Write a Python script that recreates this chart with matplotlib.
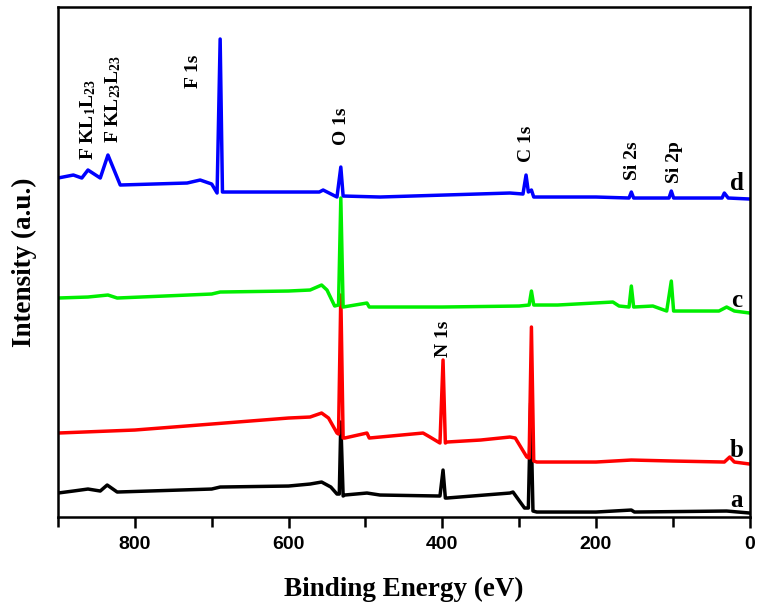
"""XPS survey spectra a-d, redrawn from the reference figure."""

import matplotlib
matplotlib.use("Agg")
import matplotlib.pyplot as plt
from matplotlib.ticker import MultipleLocator

plt.rcParams["mathtext.fontset"] = "custom"
plt.rcParams["mathtext.rm"] = "Liberation Serif:bold"
plt.rcParams["mathtext.bf"] = "Liberation Serif:bold"
plt.rcParams["mathtext.default"] = "rm"

# binding energy (eV) / intensity (a.u.)
E_a = [900, 880, 861, 845, 836, 823, 700, 689, 600, 572, 557, 545, 537, 534, 532, 529, 527,
       498, 481, 403, 399, 396, 394, 312, 308, 293, 288, 285, 282, 277, 200, 154, 150, 30, 0]
I_a = [24, 26, 28, 26, 32, 25, 28, 30, 31, 33, 35, 30, 23, 23, 95, 21, 22,
       24, 22, 21, 47, 19, 19, 24, 25, 9, 9, 114, 6, 5, 5, 7, 5, 6, 4]

E_b = [900, 800, 700, 600, 572, 557, 548, 537, 535, 532, 529, 527, 498, 495, 481, 425, 416,
       403, 399, 396, 394, 350, 312, 305, 290, 287, 284, 281, 277, 200, 154, 100, 33, 26, 20, 0]
I_b = [84, 87, 93, 99, 100, 104, 99, 84, 83, 222, 79, 79, 84, 79, 80, 84, 80,
       74, 157, 74, 75, 77, 80, 79, 60, 59, 190, 56, 55, 55, 57, 56, 55, 60, 55, 53]

E_c = [900, 861, 835, 823, 700, 689, 600, 572, 557, 550, 540, 535, 532, 529, 498, 495, 400,
       300, 287, 284, 281, 250, 178, 170, 157, 154, 151, 126, 108, 102, 99, 40, 30, 20, 0]
I_c = [219, 220, 222, 219, 223, 225, 226, 227, 232, 227, 211, 212, 319, 210, 214, 210, 210,
       211, 212, 226, 212, 212, 215, 211, 210, 231, 210, 211, 206, 236, 206, 206, 210, 206, 204]

E_d = [900, 880, 869, 861, 845, 835, 819, 732, 715, 700, 693, 689, 686, 680, 560, 555, 537,
       532, 529, 481, 312, 295, 291, 288, 284, 281, 200, 157, 154, 151, 105, 102, 99, 36, 33, 28, 0]
I_d = [339, 342, 339, 347, 339, 362, 332, 334, 337, 333, 324, 478, 325, 325, 325, 327, 320,
       350, 321, 320, 324, 323, 342, 325, 327, 320, 320, 319, 325, 319, 319, 326, 319, 319, 324, 319, 318]

series = [(E_a, I_a, "black", "a", 17), (E_b, I_b, "#ff0000", "b", 67),
          (E_c, I_c, "#00ee00", "c", 217), (E_d, I_d, "#0000ff", "d", 334)]

# peak labels: text, energy, intensity at text bottom
peak_labels = [("F KL$_1$L$_{23}$", 861, 357), ("F KL$_{23}$L$_{23}$", 828, 374),
               ("F 1s", 724, 429), ("O 1s", 531, 372), ("C 1s", 290, 355),
               ("Si 2s", 152, 337), ("Si 2p", 98, 334), ("N 1s", 399, 160)]

fig = plt.figure(figsize=(7.65, 6.15), dpi=100)
ax = fig.add_axes([0.0758, 0.1593, 0.9042, 0.8293])

for E, I, col, letter, ly in series:
    ax.plot(E, I, color=col, lw=2.5, solid_joinstyle="round")
    ax.text(17, ly, letter, fontsize=18, fontweight="bold", family="Liberation Serif",
            ha="center", va="center")

for txt, e, y in peak_labels:
    ax.text(e, y, txt, rotation=90, ha="center", va="bottom", fontsize=14,
            fontweight="bold", family="Liberation Serif")

ax.set_xlim(900, 0)
ax.set_ylim(0, 510)
ax.xaxis.set_major_locator(MultipleLocator(200))
ax.xaxis.set_minor_locator(MultipleLocator(100))
ax.tick_params(axis="x", which="both", direction="out", width=1.8, labelsize=14)
ax.tick_params(axis="x", which="major", length=8, pad=6)
ax.tick_params(axis="x", which="minor", length=7)
ax.set_yticks([])
for lab in ax.get_xticklabels():
    lab.set_fontweight("bold")
    lab.set_family("Liberation Sans")
for sp in ax.spines.values():
    sp.set_linewidth(1.8)

ax.set_xlabel("Binding Energy (eV)", fontsize=19.5, fontweight="bold",
              family="Liberation Serif", labelpad=17)
ax.set_ylabel("Intensity (a.u.)", fontsize=19.5, fontweight="bold",
              family="Liberation Serif", labelpad=15)

fig.savefig("out.png", dpi=100)
